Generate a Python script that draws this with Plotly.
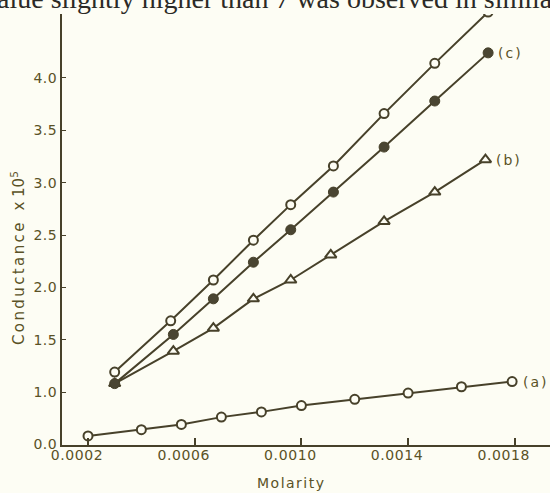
import plotly.graph_objects as go

# Molar concentration (mol/L) and conductance (x10^5) for the four runs
x_top = [0.00030, 0.00051, 0.00067, 0.00082, 0.00096, 0.00112, 0.00131, 0.00150, 0.00170]
y_top = [1.19, 1.68, 2.07, 2.45, 2.79, 3.16, 3.66, 4.14, 4.63]

x_c = [0.00030, 0.00052, 0.00067, 0.00082, 0.00096, 0.00112, 0.00131, 0.00150, 0.00170]
y_c = [1.08, 1.55, 1.89, 2.24, 2.55, 2.91, 3.34, 3.78, 4.24]

x_b = [0.00030, 0.00052, 0.00067, 0.00082, 0.00096, 0.00111, 0.00131, 0.00150, 0.00169]
y_b = [1.08, 1.39, 1.61, 1.89, 2.07, 2.31, 2.63, 2.91, 3.22]

x_a = [0.00020, 0.00040, 0.00055, 0.00070, 0.00085, 0.00100, 0.00120, 0.00140, 0.00160, 0.00179]
y_a = [0.58, 0.64, 0.69, 0.76, 0.81, 0.87, 0.93, 0.99, 1.05, 1.10]

x_tick_vals = [0.0002, 0.0006, 0.0010, 0.0014, 0.0018]
x_tick_text = ["0.0002", "0.0006", "0.0010", "0.0014", "0.0018"]
# broken axis: the origin is drawn half a step below 1.0
y_tick_vals = [0.5, 1.0, 1.5, 2.0, 2.5, 3.0, 3.5, 4.0]
y_tick_text = ["0.0", "1.0", "1.5", "2.0", "2.5", "3.0", "3.5", "4.0"]

INK = "#47412a"
TEXT = "#5a5226"
PAPER = "#fdfdf4"
FONT = "DejaVu Sans"

W, H = 550, 493
ML, MR, MT, MB = 62, 0, 14, 48


def px_x(p):
    return (p - ML) / (W - ML - MR)


def px_y(p):
    return 1 - (p - MT) / (H - MT - MB)


def spaced(s, sp):
    return f'<span style="letter-spacing:{sp}px">{s}</span>'


fig = go.Figure()

line_style = dict(color=INK, width=2)

fig.add_trace(go.Scatter(
    x=x_b, y=y_b, mode="lines+markers", line=line_style,
    marker=dict(symbol="triangle-up", size=10, color=PAPER,
                line=dict(color=INK, width=2)),
    showlegend=False))
fig.add_trace(go.Scatter(
    x=x_top, y=y_top, mode="lines+markers", line=line_style,
    marker=dict(symbol="circle", size=9, color=PAPER,
                line=dict(color=INK, width=2)),
    showlegend=False))
fig.add_trace(go.Scatter(
    x=x_c, y=y_c, mode="lines+markers", line=line_style,
    marker=dict(symbol="circle", size=10, color="#4a4532",
                line=dict(color=INK, width=1)),
    showlegend=False))
fig.add_trace(go.Scatter(
    x=x_a, y=y_a, mode="lines+markers", line=line_style,
    marker=dict(symbol="circle", size=9, color=PAPER,
                line=dict(color=INK, width=2)),
    showlegend=False))

# curve labels next to the last point of each run
for xs, ys, lab, shift in [(x_c, y_c, "(c)", 22), (x_b, y_b, "(b)", 24), (x_a, y_a, "(a)", 24)]:
    fig.add_annotation(x=xs[-1], y=ys[-1], text=spaced(lab, 2), showarrow=False,
                       xanchor="center", yanchor="middle", xshift=shift,
                       font=dict(family=FONT, size=14, color=TEXT))

# axis titles
fig.add_annotation(xref="paper", yref="paper", x=px_x(291), y=px_y(483),
                   xanchor="center", yanchor="middle",
                   text=spaced("Molarity", 1.5), showarrow=False,
                   font=dict(family=FONT, size=14, color=TEXT))
fig.add_annotation(xref="paper", yref="paper", x=px_x(18), y=px_y(258),
                   xanchor="center", yanchor="middle",
                   text=spaced("Conductance", 2.4) + "  x 10<sup>5</sup>",
                   textangle=-90, showarrow=False,
                   font=dict(family=FONT, size=15, color=TEXT))

# running text line above the figure
fig.add_annotation(xref="paper", yref="paper", x=px_x(-19), y=px_y(-2),
                   xanchor="left", yanchor="middle",
                   text="value slightly higher than 7 was observed in similar",
                   showarrow=False,
                   font=dict(family="Liberation Serif", size=28, color="#2b2a26"))

fig.update_xaxes(
    range=[0.0001025, 0.001932], tickvals=x_tick_vals,
    ticktext=[spaced(t, 0.6) for t in x_tick_text],
    showline=True, linewidth=2, linecolor=INK, ticks="inside", ticklen=7,
    tickwidth=1.5, tickcolor=INK, showgrid=False, zeroline=False,
    ticklabelshift=-11, ticklabelstandoff=-4,
    tickfont=dict(family=FONT, size=14, color=TEXT))
fig.update_yaxes(
    range=[0.4936, 4.6114], tickvals=y_tick_vals,
    ticktext=[spaced(t, 0.5) for t in y_tick_text],
    showline=True, linewidth=2, linecolor=INK, ticks="inside", ticklen=4,
    tickwidth=1, tickcolor=INK, showgrid=False, zeroline=False,
    tickfont=dict(family=FONT, size=14, color=TEXT))

fig.update_layout(
    width=W, height=H, margin=dict(l=ML, r=MR, t=MT, b=MB),
    paper_bgcolor=PAPER, plot_bgcolor=PAPER, showlegend=False)

fig.write_html("out.html")
